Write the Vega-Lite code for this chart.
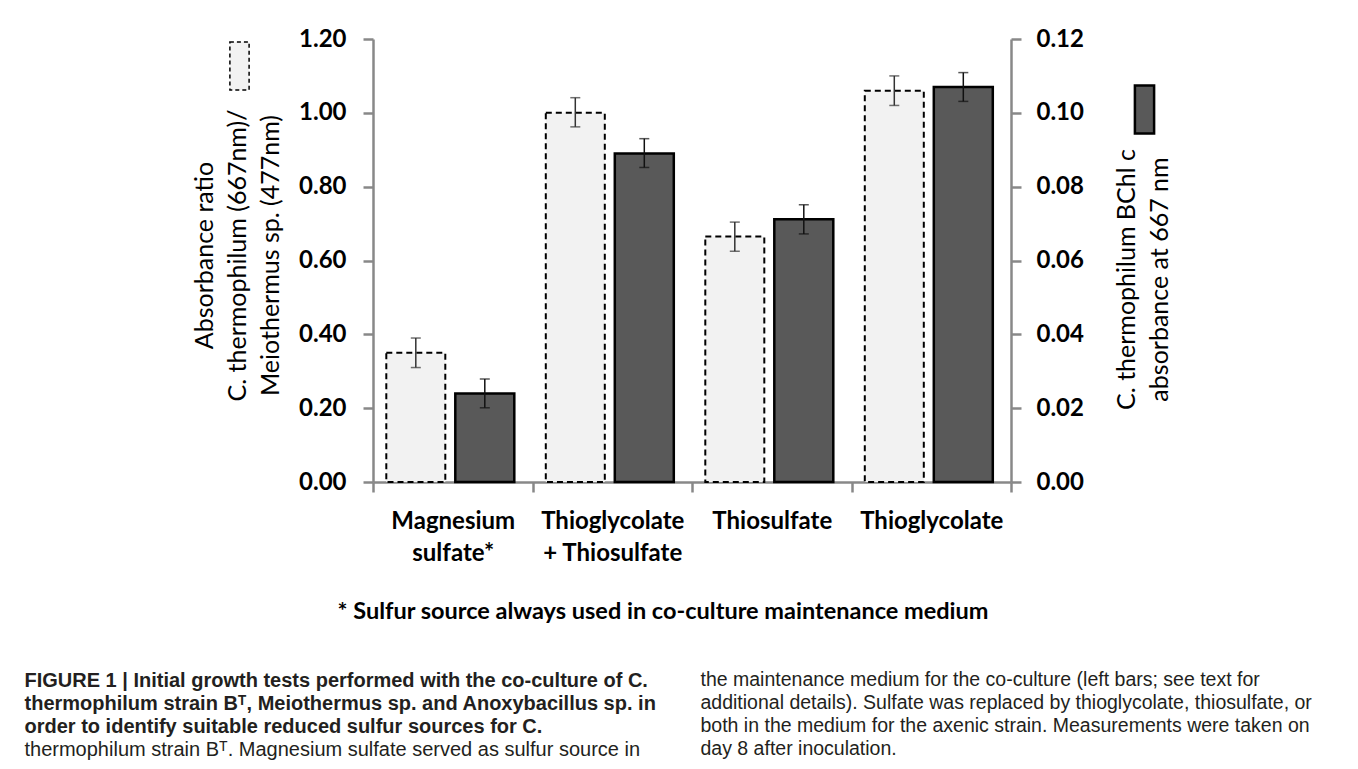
{
  "$schema": "https://vega.github.io/schema/vega-lite/v6.json",
  "width": 638,
  "height": 443,
  "autosize": {"type": "none"},
  "padding": {"left": 373, "top": 39, "right": 347, "bottom": 287},
  "background": "white",
  "config": {
    "view": {"stroke": null},
    "axis": {
      "grid": false,
      "domainColor": "#888888",
      "domainWidth": 2.5,
      "tickColor": "#888888",
      "tickWidth": 2.5,
      "tickSize": 10,
      "labelFont": "Lato",
      "labelFontWeight": "bold",
      "labelFontSize": 24,
      "labelColor": "#000000",
      "labelOverlap": false,
      "titleColor": "#000000",
      "titleFont": "Lato",
      "titleFontWeight": "normal",
      "titleFontSize": 25
    }
  },
  "data": {
    "values": [
      {"category": "Magnesium|sulfate*", "series": "ratio", "value": 0.35, "lo": 0.31, "hi": 0.39},
      {"category": "Thioglycolate|+ Thiosulfate", "series": "ratio", "value": 1.0, "lo": 0.962, "hi": 1.041},
      {"category": "Thiosulfate", "series": "ratio", "value": 0.665, "lo": 0.625, "hi": 0.704},
      {"category": "Thioglycolate", "series": "ratio", "value": 1.06, "lo": 1.02, "hi": 1.1},
      {"category": "Magnesium|sulfate*", "series": "BChl", "value": 0.024, "lo": 0.0201, "hi": 0.0279},
      {"category": "Thioglycolate|+ Thiosulfate", "series": "BChl", "value": 0.089, "lo": 0.0852, "hi": 0.093},
      {"category": "Thiosulfate", "series": "BChl", "value": 0.0712, "lo": 0.0672, "hi": 0.0751},
      {"category": "Thioglycolate", "series": "BChl", "value": 0.107, "lo": 0.1031, "hi": 0.1109}
    ]
  },
  "layer": [
    {
      "transform": [{"filter": "datum.series === 'ratio'"}],
      "encoding": {
        "x": {
          "field": "category",
          "type": "nominal",
          "sort": null,
          "scale": {"paddingInner": 0, "paddingOuter": 0},
          "axis": {
            "title": "* Sulfur source always used in co-culture maintenance medium",
            "titleFontWeight": "bold",
            "titleFontSize": 23.5,
            "titleX": 289.5,
            "titleY": 136,
            "titleAlign": "center",
            "titleBaseline": "alphabetic",
            "labelExpr": "split(datum.label, '|')",
            "labelAngle": 0,
            "labelPadding": 17,
            "labelLineHeight": 32,
            "labelBaseline": "top",
            "tickBand": "extent"
          }
        },
        "xOffset": {
          "field": "series",
          "type": "nominal",
          "scale": {"domain": ["ratio", "BChl"], "range": [13.3, 141.3], "paddingInner": 0.1449, "paddingOuter": 0}
        }
      },
      "layer": [
        {
          "mark": {"type": "bar", "stroke": "#000000", "strokeWidth": 2, "strokeDash": [6, 4]},
          "encoding": {
            "y": {
              "field": "value",
              "type": "quantitative",
              "scale": {"domain": [0, 1.2]},
              "axis": {
                "orient": "left",
                "values": [0, 0.2, 0.4, 0.6, 0.8, 1.0, 1.2],
                "format": ".2f",
                "labelPadding": 17,
                "title": ["Absorbance ratio", "C. thermophilum (667nm)/", "Meiothermus sp. (477nm)"],
                "titleAngle": -90,
                "titleBaseline": "top",
                "titleAlign": "center",
                "titleLineHeight": 33,
                "titleX": -181,
                "titleY": 216
              }
            },
            "fill": {
              "field": "series",
              "type": "nominal",
              "scale": {"domain": ["ratio"], "range": ["#f2f2f2"]},
              "legend": {
                "orient": "none",
                "legendX": -158.5,
                "legendY": 2,
                "title": null,
                "labelExpr": "''",
                "labelOffset": 0,
                "padding": 0,
                "symbolType": "M-0.4,-1H0.4V1H-0.4Z",
                "symbolSize": 2304,
                "symbolStrokeColor": "#000000",
                "symbolStrokeWidth": 1.5,
                "symbolDash": [4, 3]
              }
            }
          }
        },
        {
          "mark": {"type": "rule", "color": "#333333", "strokeWidth": 1.5},
          "encoding": {
            "y": {
              "field": "lo",
              "type": "quantitative",
              "axis": {
                "orient": "left",
                "labels": false,
                "ticks": false,
                "domain": false,
                "title": "thermophilum strain Bᵀ. Magnesium sulfate served as sulfur source in",
                "titleAngle": 0,
                "titleAlign": "left",
                "titleBaseline": "top",
                "titleX": -349,
                "titleY": 700,
                "titleFont": "Liberation Sans",
                "titleFontSize": 20,
                "titleFontWeight": "normal",
                "titleColor": "#231f20"
              }
            },
            "y2": {"field": "hi"}
          }
        },
        {
          "mark": {"type": "tick", "color": "#333333", "size": 10, "thickness": 1.5},
          "encoding": {
            "y": {
              "field": "lo",
              "type": "quantitative",
              "axis": {
                "orient": "left",
                "labels": false,
                "ticks": false,
                "domain": false,
                "title": [
                  "FIGURE 1 | Initial growth tests performed with the co-culture of C.",
                  "thermophilum strain Bᵀ, Meiothermus sp. and Anoxybacillus sp. in",
                  "order to identify suitable reduced sulfur sources for C."
                ],
                "titleAngle": 0,
                "titleAlign": "left",
                "titleBaseline": "top",
                "titleX": -349,
                "titleY": 631,
                "titleFont": "Liberation Sans",
                "titleFontSize": 20,
                "titleFontWeight": "bold",
                "titleColor": "#231f20",
                "titleLineHeight": 23
              }
            }
          }
        },
        {
          "mark": {"type": "tick", "color": "#333333", "size": 10, "thickness": 1.5},
          "encoding": {"y": {"field": "hi", "type": "quantitative", "axis": null}}
        }
      ],
      "resolve": {"axis": {"y": "independent"}}
    },
    {
      "transform": [{"filter": "datum.series === 'BChl'"}],
      "encoding": {
        "x": {
          "field": "category",
          "type": "nominal",
          "sort": null,
          "scale": {"paddingInner": 0, "paddingOuter": 0},
          "axis": {
            "orient": "bottom",
            "labels": false,
            "ticks": false,
            "domain": false,
            "title": [
              "the maintenance medium for the co-culture (left bars; see text for",
              "additional details). Sulfate was replaced by thioglycolate, thiosulfate, or",
              "both in the medium for the axenic strain. Measurements were taken on",
              "day 8 after inoculation."
            ],
            "titleFont": "Liberation Sans",
            "titleFontSize": 19.5,
            "titleFontWeight": "normal",
            "titleColor": "#231f20",
            "titleLineHeight": 23,
            "titleX": 327,
            "titleY": 188,
            "titleAlign": "left",
            "titleBaseline": "top",
            "titleAngle": 0
          }
        },
        "xOffset": {
          "field": "series",
          "type": "nominal",
          "scale": {"domain": ["ratio", "BChl"], "range": [13.3, 141.3], "paddingInner": 0.1449, "paddingOuter": 0}
        }
      },
      "layer": [
        {
          "mark": {"type": "bar", "stroke": "#000000", "strokeWidth": 2.5},
          "encoding": {
            "y": {
              "field": "value",
              "type": "quantitative",
              "scale": {"domain": [0, 0.12]},
              "axis": {
                "orient": "right",
                "values": [0, 0.02, 0.04, 0.06, 0.08, 0.1, 0.12],
                "format": ".2f",
                "labelPadding": 15,
                "title": ["C. thermophilum BChl c", "absorbance at 667 nm"],
                "titleAngle": -90,
                "titleBaseline": "top",
                "titleAlign": "center",
                "titleLineHeight": 33,
                "titleX": 103,
                "titleY": 240
              }
            },
            "fill": {
              "field": "series",
              "type": "nominal",
              "scale": {"domain": ["BChl"], "range": ["#595959"]},
              "legend": {
                "orient": "none",
                "legendX": 746,
                "legendY": 45,
                "title": null,
                "labelExpr": "''",
                "labelOffset": 0,
                "padding": 0,
                "symbolType": "M-0.4,-1H0.4V1H-0.4Z",
                "symbolSize": 2304,
                "symbolStrokeColor": "#000000",
                "symbolStrokeWidth": 2.5
              }
            }
          }
        },
        {
          "mark": {"type": "rule", "color": "#111111", "strokeWidth": 1.5},
          "encoding": {
            "y": {"field": "lo", "type": "quantitative"},
            "y2": {"field": "hi"}
          }
        },
        {
          "mark": {"type": "tick", "color": "#111111", "size": 10, "thickness": 1.5},
          "encoding": {"y": {"field": "lo", "type": "quantitative"}}
        },
        {
          "mark": {"type": "tick", "color": "#111111", "size": 10, "thickness": 1.5},
          "encoding": {"y": {"field": "hi", "type": "quantitative"}}
        }
      ]
    }
  ],
  "resolve": {
    "scale": {"y": "independent", "fill": "independent"},
    "axis": {"x": "independent"}
  }
}
